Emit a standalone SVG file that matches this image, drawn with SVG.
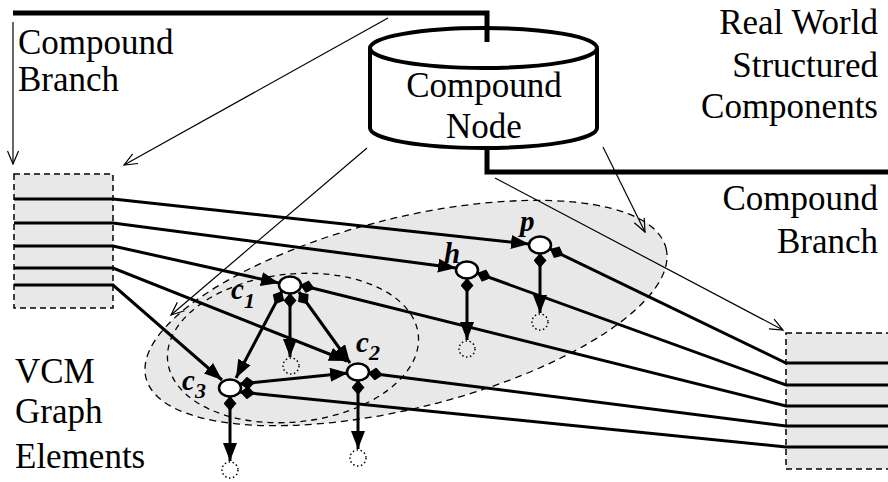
<svg xmlns="http://www.w3.org/2000/svg" width="888" height="482" viewBox="0 0 888 482">
<style>
.lbl{font-family:"Liberation Serif","DejaVu Serif","Times New Roman",serif;font-size:35px;fill:#000}
.var{font-family:"Liberation Serif","DejaVu Serif","Times New Roman",serif;font-size:29px;font-weight:bold;font-style:italic;fill:#000}
.thin{fill:none;stroke:#000;stroke-width:1.2;marker-end:url(#open)}
.con{fill:none;stroke:#000;stroke-width:3}
.arr{marker-end:url(#tri)}
.dia{marker-start:url(#dia)}
.box{fill:#e8e8e8;stroke:#000;stroke-width:1.5;stroke-dasharray:6 4}
.node{fill:#fff;stroke:#000;stroke-width:2.5}
.dot{fill:none;stroke:#000;stroke-width:1.5;stroke-dasharray:1.5 2.5}
.thick{fill:none;stroke:#000;stroke-width:5}
</style>
<defs>
<marker id="tri" markerUnits="userSpaceOnUse" markerWidth="19" markerHeight="14" refX="18" refY="7" orient="auto"><path d="M0,0 L18,7 L0,14 z" fill="#000"/></marker>
<marker id="dia" markerUnits="userSpaceOnUse" markerWidth="15" markerHeight="13" refX="0" refY="6.5" orient="auto"><path d="M0,6.5 L7.5,0 L15,6.5 L7.5,13 z" fill="#000"/></marker>
<marker id="open" markerUnits="userSpaceOnUse" markerWidth="15" markerHeight="13" refX="14" refY="6.5" orient="auto"><path d="M1,1 L14,6.5 L1,12" fill="none" stroke="#000" stroke-width="1.2"/></marker>
</defs>
<rect width="888" height="482" fill="#fff"/>
<g id="vcm-region">
<ellipse cx="406" cy="313" rx="268" ry="95" transform="rotate(-14 406 313)" fill="#e8e8e8" stroke="#000" stroke-width="1.3" stroke-dasharray="7 5"/>
<ellipse cx="293" cy="348" rx="126" ry="74" transform="rotate(-6 293 348)" fill="none" stroke="#000" stroke-width="1.3" stroke-dasharray="6 5"/>
</g>
<g id="left-box">
<rect class="box" x="14" y="174" width="99" height="134"/>
</g>
<g id="right-box">
<rect class="box" x="786" y="333" width="110" height="136"/>
</g>
<g id="cylinder">
<path d="M370,48 L370,128 A113.5,20 0 0 0 597,128 L597,48" fill="#fff" stroke="#000" stroke-width="4"/>
<ellipse cx="483.5" cy="48" rx="113.5" ry="20" fill="#fff" stroke="#000" stroke-width="4"/>
<text class="lbl" x="484" y="97" text-anchor="middle">Compound</text>
<text class="lbl" x="484" y="138" text-anchor="middle">Node</text>
</g>
<g id="connectors">
<path class="thick" d="M13,13 L487,13 L487,42"/>
<path class="thick" d="M487,148 L487,172 L888,172"/>
<path class="thin" d="M13,22 L13,164"/>
<path class="thin" d="M388,18 L124,165"/>
<path class="thin" d="M367,148 L171,315"/>
<path class="thin" d="M495,178 L783,330"/>
<path class="thin" d="M603,147 L645,232"/>
<path class="con arr" d="M14,199 L113,199 L529,244"/>
<path class="con arr" d="M14,223 L113,223 L456,268"/>
<path class="con arr" d="M14,246 L113,246 L279,283"/>
<path class="con arr" d="M14,268 L113,268 L347,361"/>
<path class="con arr" d="M14,285 L113,285 L222,380"/>
<path class="con dia" d="M550,249 L786,363 L888,363"/>
<path class="con dia" d="M477,273 L786,385 L888,385"/>
<path class="con dia" d="M300,285 L786,406 L888,406"/>
<path class="con dia" d="M368,373 L786,426 L888,426"/>
<path class="con dia" d="M240,392 L786,447 L888,447"/>
<path class="con dia arr" d="M540,253 L540,313"/>
<path class="con dia arr" d="M467,278 L467,340"/>
<path class="con dia arr" d="M290,293 L290,357"/>
<path class="con dia arr" d="M358,380 L358,449"/>
<path class="con dia arr" d="M230,396 L230,461"/>
<path class="con dia arr" d="M282,291 L236,378"/>
<path class="con dia arr" d="M299,292 L350,363"/>
<path class="con dia arr" d="M240,384 L348,373"/>
</g>
<g id="node-p"><ellipse class="node" cx="540" cy="245" rx="11" ry="8.5"/><text class="var" x="520" y="231">p</text></g>
<g id="node-h"><ellipse class="node" cx="467" cy="270" rx="11" ry="8.5"/><text class="var" x="444" y="263">h</text></g>
<g id="node-c1"><ellipse class="node" cx="290" cy="285" rx="11" ry="8.5"/><text class="var" x="231" y="299">c<tspan font-size="22" dy="9">1</tspan></text></g>
<g id="node-c2"><ellipse class="node" cx="358" cy="372" rx="11" ry="8.5"/><text class="var" x="356" y="352">c<tspan font-size="22" dy="8">2</tspan></text></g>
<g id="node-c3"><ellipse class="node" cx="230" cy="388" rx="11" ry="8.5"/><text class="var" x="182" y="390">c<tspan font-size="22" dy="8">3</tspan></text></g>
<g id="ghost-nodes">
<circle class="dot" cx="540" cy="322" r="8"/>
<circle class="dot" cx="467" cy="349" r="8"/>
<circle class="dot" cx="291" cy="366" r="8"/>
<circle class="dot" cx="358" cy="458" r="8"/>
<circle class="dot" cx="230" cy="470" r="8"/>
</g>
<g id="labels">
<text class="lbl" x="18" y="54">Compound</text>
<text class="lbl" x="18" y="91">Branch</text>
<text class="lbl" x="878" y="34" text-anchor="end">Real World</text>
<text class="lbl" x="878" y="77" text-anchor="end">Structured</text>
<text class="lbl" x="878" y="118" text-anchor="end">Components</text>
<text class="lbl" x="878" y="210" text-anchor="end">Compound</text>
<text class="lbl" x="878" y="253" text-anchor="end">Branch</text>
<text class="lbl" x="15" y="383">VCM</text>
<text class="lbl" x="15" y="423">Graph</text>
<text class="lbl" x="15" y="468">Elements</text>
</g>
</svg>
